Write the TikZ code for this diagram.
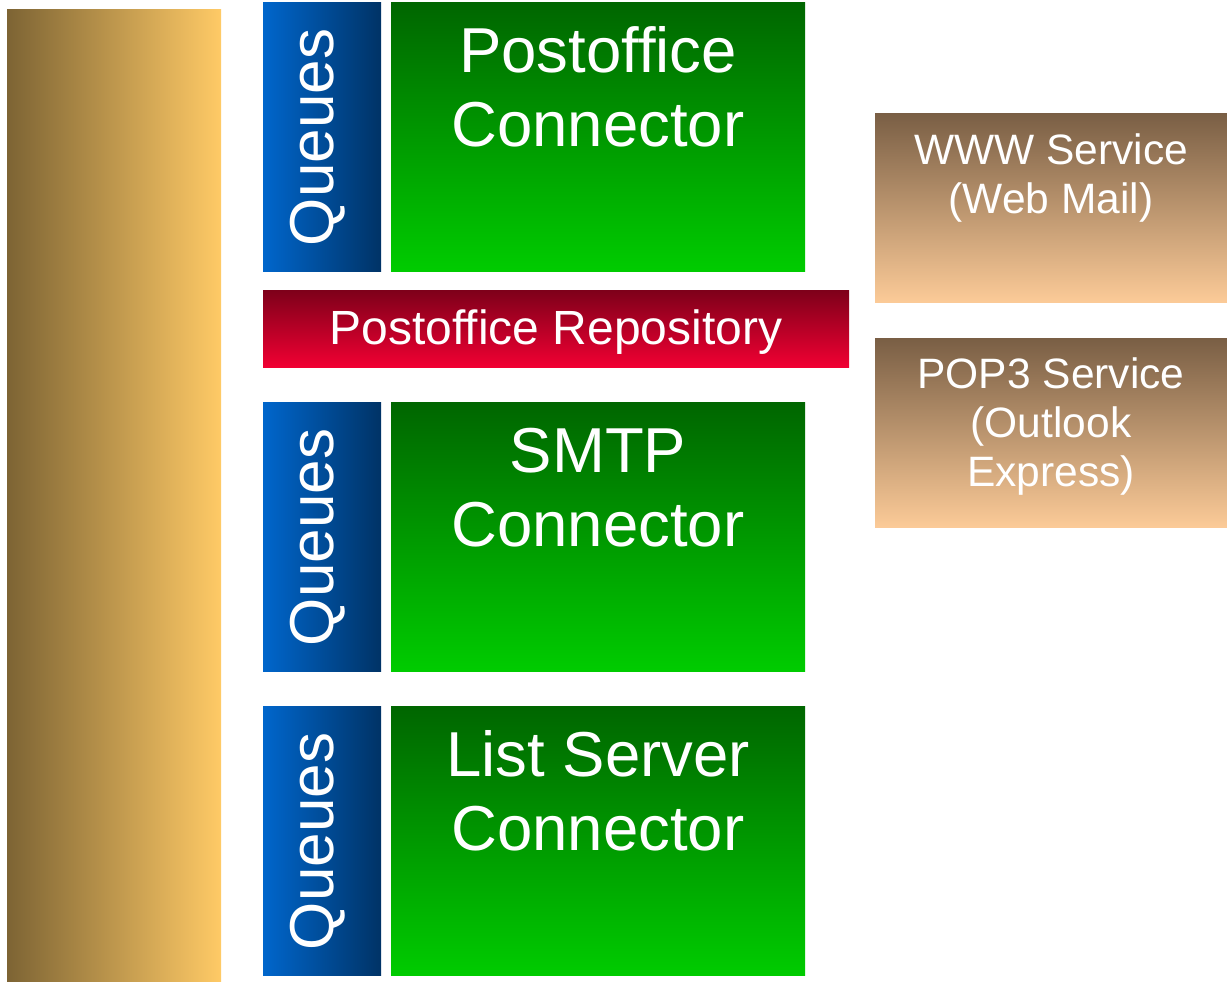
\documentclass[tikz,border=0pt]{standalone}
\usepackage{fontspec}
\setmainfont{Liberation Sans}
\definecolor{goldL}{HTML}{7D6434}
\definecolor{goldR}{HTML}{FFCA66}
\definecolor{blueL}{HTML}{0066CC}
\definecolor{blueR}{HTML}{003366}
\definecolor{greenT}{HTML}{006600}
\definecolor{greenB}{HTML}{00CC00}
\definecolor{redT}{HTML}{7F001A}
\definecolor{redB}{HTML}{F20033}
\definecolor{brownT}{HTML}{7A5F45}
\definecolor{brownB}{HTML}{FCCB98}
\begin{document}
\begin{tikzpicture}[x=1pt,y=1pt,
  box/.style={rectangle, inner sep=0pt, outer sep=0pt, anchor=north west, draw=none},
  goldbox/.style={box, left color=goldL, right color=goldR},
  queuebox/.style={box, left color=blueL, right color=blueR, minimum width=118pt, minimum height=269pt},
  connbox/.style={box, top color=greenT, bottom color=greenB, minimum width=414pt, minimum height=269pt},
  repobox/.style={box, top color=redT, bottom color=redB},
  servbox/.style={box, top color=brownT, bottom color=brownB, minimum width=352pt, minimum height=189pt},
  lbl/.style={text=white, inner sep=0pt, anchor=base, align=center},
  conntext/.style={lbl, font=\fontsize{63.5}{74}\selectfont},
  queuetext/.style={lbl, rotate=90, font=\fontsize{62}{70}\selectfont},
  servtext/.style={lbl, font=\fontsize{42.5}{49}\selectfont}
]
\useasboundingbox (0,0) rectangle (1227,982);
\node[goldbox, minimum width=214pt, minimum height=972pt] (gold) at (7,972) {};

\node[queuebox] (q1) at (263,979) {};
\node[queuebox] (q2) at (263,579) {};
\node[queuebox] (q3) at (263,275) {};
\node[queuetext] (q1t) at (333,844.5) {Queues};
\node[queuetext] (q2t) at (333,444.5) {Queues};
\node[queuetext] (q3t) at (333,140.5) {Queues};

\node[connbox] (c1) at (391,979) {};
\node[connbox] (c2) at (391,579) {};
\node[connbox] (c3) at (391,275) {};
% base anchor = baseline of the last line
\node[conntext] (c1t) at (598,835) {Postoffice\\Connector};
\node[conntext] (c2t) at (598,435) {SMTP\\Connector};
\node[conntext] (c3t) at (598,131) {List Server\\Connector};

\node[repobox, minimum width=586pt, minimum height=77pt] (repo) at (263,691) {};
\node[lbl, font=\fontsize{48}{56}\selectfont] (repot) at (556,637) {Postoffice Repository};

\node[servbox] (www) at (875,868) {};
\node[servbox] (pop) at (875,643) {};
\node[servtext] (wwwt) at (1051,768) {WWW Service\\(Web Mail)};
\node[servtext] (popt) at (1051,495) {POP3 Service\\(Outlook\\Express)};
\end{tikzpicture}
\end{document}
